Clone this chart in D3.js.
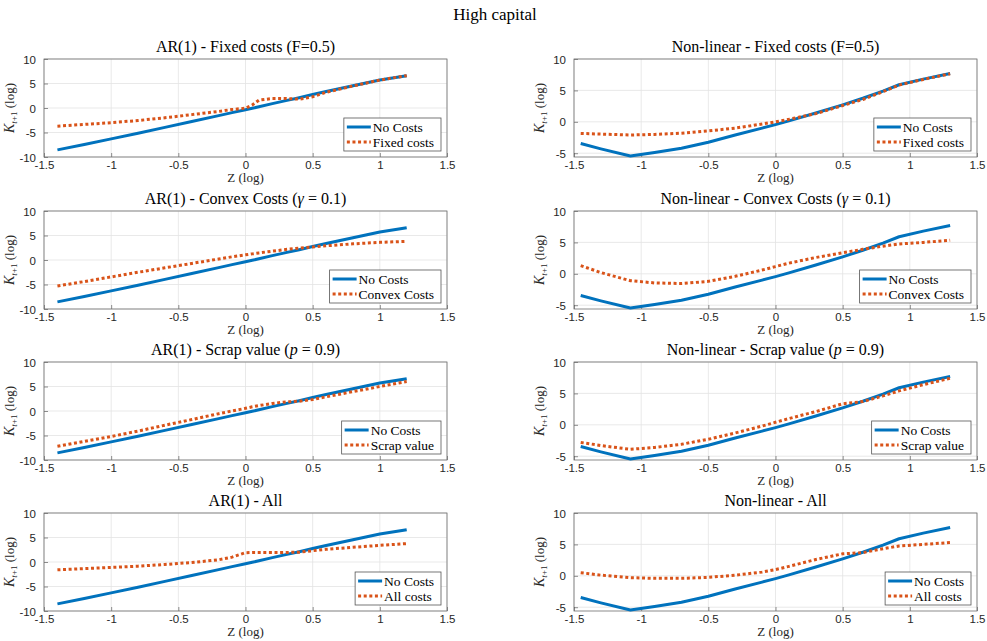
<!DOCTYPE html>
<html>
<head>
<meta charset="utf-8">
<script src="https://cdn.jsdelivr.net/npm/d3@7"></script>
<style>
  body { margin: 0; background: #fff; }
  svg { display: block; }
</style>
</head>
<body>
<svg id="chart"></svg>
<script>
const width = 987;
const height = 641;

// grids of Z (log)
const zAR = [-1.4, -1.2, -1.0, -0.8, -0.6, -0.4, -0.2, -0.1, 0, 0.05, 0.1, 0.2, 0.3, 0.4, 0.5, 0.6, 0.8, 1.0, 1.2];
const zNL = [-1.45, -1.3, -1.08, -0.9, -0.7, -0.5, -0.3, -0.1, 0, 0.1, 0.3, 0.5, 0.65, 0.8, 0.92, 1.1, 1.3];

// AR(1) policy functions
const arNoCost = [-8.55, -7.45, -6.3, -5.15, -3.95, -2.75, -1.55, -0.95, -0.35, -0.05, 0.25, 0.9, 1.5, 2.1, 2.75, 3.35, 4.55, 5.7, 6.6];
const arFixed  = [-3.7, -3.35, -3.0, -2.55, -2.0, -1.35, -0.7, -0.3, -0.05, 0.6, 1.6, 1.95, 1.95, 1.8, 2.3, 3.2, 4.5, 5.7, 6.6];
const arConvex = [-5.3, -4.4, -3.45, -2.5, -1.6, -0.7, 0.2, 0.65, 1.05, 1.25, 1.45, 1.8, 2.15, 2.4, 2.65, 2.9, 3.3, 3.6, 3.8];
const arScrap  = [-7.2, -6.2, -5.2, -4.1, -2.9, -1.75, -0.55, 0.0, 0.55, 0.85, 1.1, 1.55, 1.85, 2.0, 2.35, 2.9, 3.95, 5.0, 6.0];
const arAll    = [-1.6, -1.35, -1.1, -0.85, -0.5, -0.1, 0.45, 1.0, 1.9, 1.95, 1.95, 1.95, 1.95, 2.0, 2.3, 2.6, 3.0, 3.4, 3.75];

// Non-linear policy functions
const nlNoCost = [-3.45, -4.3, -5.45, -4.9, -4.2, -3.25, -2.1, -1.0, -0.45, 0.15, 1.4, 2.7, 3.75, 4.9, 5.9, 6.8, 7.7];
const nlFixed  = [-1.85, -1.95, -2.1, -2.0, -1.8, -1.45, -1.0, -0.35, 0.0, 0.4, 1.3, 2.6, 3.55, 4.8, 5.85, 6.75, 7.65];
const nlConvex = [1.3, 0.2, -1.1, -1.45, -1.55, -1.2, -0.4, 0.6, 1.15, 1.7, 2.6, 3.35, 3.9, 4.4, 4.75, 5.0, 5.35];
const nlScrap  = [-2.8, -3.3, -3.9, -3.6, -3.1, -2.3, -1.3, -0.2, 0.4, 1.0, 2.1, 3.35, 3.7, 4.6, 5.4, 6.4, 7.4];
const nlAll    = [0.5, 0.1, -0.3, -0.4, -0.4, -0.25, 0.1, 0.6, 1.0, 1.5, 2.6, 3.5, 3.7, 4.3, 4.75, 5.0, 5.3];

const xTicks = [-1.5, -1, -0.5, 0, 0.5, 1, 1.5];
const yTicksAR = [-10, -5, 0, 5, 10];
const yTicksNL = [-5, 0, 5, 10];

const costLabels = ['Fixed costs', 'Convex Costs', 'Scrap value', 'All costs'];

const blue = '#0072BD';
const orange = '#D95319';
const serif = '"Liberation Serif", "DejaVu Serif", serif';
const sans = '"Liberation Sans", Arial, sans-serif';

const svg = d3.select('#chart')
    .attr('width', width)
    .attr('height', height);

svg.append('text')
    .attr('x', 495)
    .attr('y', 20)
    .attr('text-anchor', 'middle')
    .style('font-family', serif)
    .style('font-size', '17px')
    .attr('fill', '#000')
    .text('High capital');

// title pieces: [text, italic?]
const titlesAR = [
    [['AR(1) - Fixed costs (F=0.5)', false]],
    [['AR(1) - Convex Costs (', false], ['γ', true], [' = 0.1)', false]],
    [['AR(1) - Scrap value (', false], ['p', true], [' = 0.9)', false]],
    [['AR(1) - All', false]]
];
const titlesNL = [
    [['Non-linear - Fixed costs (F=0.5)', false]],
    [['Non-linear - Convex Costs (', false], ['γ', true], [' = 0.1)', false]],
    [['Non-linear - Scrap value (', false], ['p', true], [' = 0.9)', false]],
    [['Non-linear - All', false]]
];

const rowTops = [59, 211, 362, 513];
const plotH = 98;
const cols = [
    {x0: 44, x1: 447, z: zAR, yDomain: [-10, 10], yTicks: yTicksAR, noCost: arNoCost,
     costs: [arFixed, arConvex, arScrap, arAll], titles: titlesAR},
    {x0: 574, x1: 977, z: zNL, yDomain: [-5.6, 10], yTicks: yTicksNL, noCost: nlNoCost,
     costs: [nlFixed, nlConvex, nlScrap, nlAll], titles: titlesNL}
];

cols.forEach(col => {
    rowTops.forEach((top, r) => {
        drawPanel(col, top, r);
    });
});

function drawPanel(col, top, r) {
    const x = d3.scaleLinear().domain([-1.5, 1.5]).range([col.x0, col.x1]);
    const y = d3.scaleLinear().domain(col.yDomain).range([top + plotH, top]);
    const g = svg.append('g');

    // grid
    g.selectAll('.vgrid')
        .data(xTicks)
        .enter()
        .append('line')
        .attr('x1', d => x(d)).attr('x2', d => x(d))
        .attr('y1', top).attr('y2', top + plotH)
        .attr('stroke', '#e3e3e3')
        .attr('stroke-width', 0.8);
    g.selectAll('.hgrid')
        .data(col.yTicks)
        .enter()
        .append('line')
        .attr('x1', col.x0).attr('x2', col.x1)
        .attr('y1', d => y(d)).attr('y2', d => y(d))
        .attr('stroke', '#e3e3e3')
        .attr('stroke-width', 0.8);

    // axes
    const fmt = d => String(d);
    const xAxis = g.append('g')
        .attr('transform', `translate(0,${top + plotH})`)
        .call(d3.axisBottom(x).tickValues(xTicks).tickSize(-4).tickPadding(8).tickFormat(fmt));
    const yAxis = g.append('g')
        .attr('transform', `translate(${col.x0},0)`)
        .call(d3.axisLeft(y).tickValues(col.yTicks).tickSize(-4).tickPadding(8).tickFormat(fmt));
    [xAxis, yAxis].forEach(a => {
        a.select('.domain').remove();
        a.selectAll('line').attr('stroke', '#444').attr('stroke-width', 0.6);
        a.selectAll('text')
            .style('font-family', sans)
            .style('font-size', '11.5px')
            .attr('fill', '#262626');
    });
    xAxis.selectAll('text').attr('y', 4).attr('dy', '0.71em');
    yAxis.selectAll('text').attr('dy', '0.35em');

    // box
    g.append('rect')
        .attr('x', col.x0).attr('y', top)
        .attr('width', col.x1 - col.x0).attr('height', plotH)
        .attr('fill', 'none')
        .attr('stroke', '#6e6e6e')
        .attr('stroke-width', 0.8);

    const line = d3.line()
        .x((d, i) => x(col.z[i]))
        .y(d => y(d));

    g.append('path')
        .datum(col.noCost)
        .attr('d', line)
        .attr('fill', 'none')
        .attr('stroke', blue)
        .attr('stroke-width', 3)
        .attr('stroke-linejoin', 'round');

    g.append('path')
        .datum(col.costs[r])
        .attr('d', line)
        .attr('fill', 'none')
        .attr('stroke', orange)
        .attr('stroke-width', 3)
        .attr('stroke-dasharray', '3,2.6');

    // title
    const cx = (col.x0 + col.x1) / 2;
    const title = g.append('text')
        .attr('x', cx)
        .attr('y', top - 7)
        .attr('text-anchor', 'middle')
        .style('font-family', serif)
        .style('font-size', '16px')
        .attr('fill', '#000');
    col.titles[r].forEach(p => {
        title.append('tspan')
            .style('font-style', p[1] ? 'italic' : 'normal')
            .text(p[0]);
    });

    // x label
    g.append('text')
        .attr('x', cx)
        .attr('y', top + plotH + 25)
        .attr('text-anchor', 'middle')
        .style('font-family', serif)
        .style('font-size', '13px')
        .attr('fill', '#262626')
        .text('Z (log)');

    // y label
    const ly = top + plotH / 2;
    const lx = col.x0 - 30;
    const yl = g.append('text')
        .attr('transform', `translate(${lx},${ly}) rotate(-90)`)
        .attr('text-anchor', 'middle')
        .style('font-family', serif)
        .style('font-size', '13px')
        .attr('fill', '#262626');
    yl.append('tspan').style('font-style', 'italic').style('font-size', '14px').text('K');
    yl.append('tspan').attr('dy', 3).style('font-size', '9px').style('font-style', 'italic').text('t');
    yl.append('tspan').style('font-size', '9px').text('+1');
    yl.append('tspan').attr('dy', -3).text(' (log)');

    // legend
    const legend = g.append('g');
    const labels = ['No Costs', costLabels[r]];
    const texts = labels.map((t, i) => legend.append('text')
        .attr('y', 0)
        .style('font-family', serif)
        .style('font-size', '13.5px')
        .attr('fill', '#000')
        .text(t));
    const tw = d3.max(texts, t => t.node().getComputedTextLength());
    const lw = 30 + tw + 6;
    const lh = 33;
    const lx0 = col.x1 - 6 - lw;
    const ly0 = top + plotH - 6 - lh;
    legend.insert('rect', 'text')
        .attr('x', lx0).attr('y', ly0)
        .attr('width', lw).attr('height', lh)
        .attr('fill', '#fff')
        .attr('stroke', '#555')
        .attr('stroke-width', 0.8);
    const rows = [ly0 + 9, ly0 + 24];
    texts.forEach((t, i) => {
        t.attr('x', lx0 + 29).attr('y', rows[i]).attr('dy', '0.35em');
    });
    legend.append('line')
        .attr('x1', lx0 + 3).attr('x2', lx0 + 27)
        .attr('y1', rows[0]).attr('y2', rows[0])
        .attr('stroke', blue).attr('stroke-width', 3);
    legend.append('line')
        .attr('x1', lx0 + 3).attr('x2', lx0 + 27)
        .attr('y1', rows[1]).attr('y2', rows[1])
        .attr('stroke', orange).attr('stroke-width', 3)
        .attr('stroke-dasharray', '3,2.6');
}
</script>
</body>
</html>
